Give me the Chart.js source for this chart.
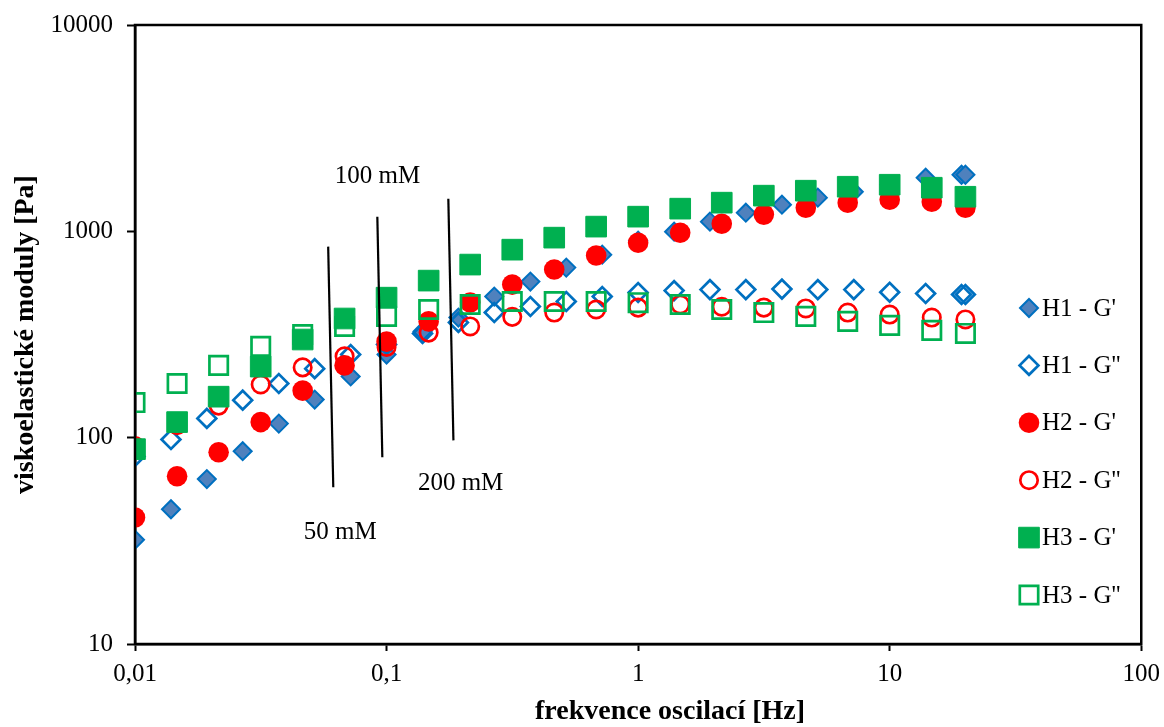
<!DOCTYPE html>
<html>
<head>
<meta charset="utf-8">
<script src="https://cdn.jsdelivr.net/npm/chart.js@4/dist/chart.umd.min.js"></script>
<style>
  html, body { margin: 0; padding: 0; background: #fff; }
</style>
</head>
<body>
<canvas id="chart" width="1164" height="727"></canvas>
<script>
// frequencies [Hz]
const freqH1 = [0.01, 0.0139, 0.0193, 0.0268, 0.0373, 0.0518, 0.072, 0.1, 0.139, 0.193, 0.268, 0.373, 0.518, 0.72,
  1, 1.39, 1.93, 2.68, 3.73, 5.18, 7.2, 10, 13.9, 19.3, 20];
const freqH23 = [0.01, 0.0147, 0.0215, 0.0316, 0.0464, 0.0681, 0.1, 0.147, 0.215, 0.316, 0.464, 0.681,
  1, 1.47, 2.15, 3.16, 4.64, 6.81, 10, 14.7, 20];

// moduli [Pa]
const h1G1 = [32, 45, 63, 86, 117, 153, 198, 253, 327, 382, 483, 571, 667, 771, 900, 996, 1114, 1231, 1346, 1456, 1556, 1680, 1820, 1880, 1880];
const h1G2 = [81, 98, 124, 152, 183, 216, 253, 283, 320, 362, 404, 432, 457, 483, 505, 516, 522, 522, 525, 522, 522, 507, 500, 494, 494];
const h2G1 = [41, 65, 85, 119, 169, 224, 292, 366, 452, 552, 653, 763, 881, 985, 1089, 1205, 1301, 1377, 1423, 1390, 1300];
const h2G2 = [91, 115, 143, 181, 219, 248, 275, 323, 346, 385, 404, 418, 427, 442, 431, 427, 423, 404, 395, 382, 374];
const h3G1 = [88, 119, 158, 221, 299, 378, 477, 577, 690, 815, 932, 1054, 1178, 1288, 1377, 1489, 1574, 1645, 1682, 1627, 1471];
const h3G2 = [148, 183, 224, 277, 316, 346, 387, 418, 442, 457, 457, 457, 451, 442, 418, 404, 387, 366, 350, 331, 320];

// concentration marker lines
const line50x = [0.0586, 0.0614], line50y = [843, 57.5];
const line100x = [0.0919, 0.0962], line100y = [1178, 80.4];
const line200x = [0.176, 0.1844], line200y = [1439, 97];
const notes = [
  { text: '100 mM', x: 0.092, y: 1837 },
  { text: '50 mM', x: 0.0655, y: 34.8 },
  { text: '200 mM', x: 0.197, y: 60 }
];

const xTicks = [0.01, 0.1, 1, 10, 100];
const yTicks = [10, 100, 1000, 10000];

const FONT = "'Liberation Serif', 'Times New Roman', serif";
Chart.defaults.font.family = FONT;
Chart.defaults.color = '#000';

function pts(xs, ys) {
  return xs.map((x, i) => ({ x: x, y: ys[i] }));
}

const BLUE = '#0070c0', BLUE_FILL = '#4f81bd', RED = '#ff0000', GREEN = '#00b050';

const series = [
  { label: "H1 - G'", data: pts(freqH1, h1G1), pointStyle: 'rectRot', pointRadius: 9,
    backgroundColor: BLUE_FILL, borderColor: BLUE, borderWidth: 2, order: 6 },
  { label: "H1 - G''", data: pts(freqH1, h1G2), pointStyle: 'rectRot', pointRadius: 9.4,
    backgroundColor: 'rgba(0,0,0,0)', borderColor: BLUE, borderWidth: 2.7, order: 5 },
  { label: "H2 - G'", data: pts(freqH23, h2G1), pointStyle: 'circle', pointRadius: 10.3,
    backgroundColor: RED, borderColor: RED, borderWidth: 0, order: 4 },
  { label: "H2 - G''", data: pts(freqH23, h2G2), pointStyle: 'circle', pointRadius: 8.7,
    backgroundColor: 'rgba(0,0,0,0)', borderColor: RED, borderWidth: 2.7, order: 3 },
  { label: "H3 - G'", data: pts(freqH23, h3G1), pointStyle: 'rect', pointRadius: 14.6,
    backgroundColor: GREEN, borderColor: GREEN, borderWidth: 1, order: 2 },
  { label: "H3 - G''", data: pts(freqH23, h3G2), pointStyle: 'rect', pointRadius: 13,
    backgroundColor: 'rgba(0,0,0,0)', borderColor: GREEN, borderWidth: 2.7, order: 1 }
];

const lineSets = [pts(line50x, line50y), pts(line100x, line100y), pts(line200x, line200y)].map(d => ({
  type: 'line', data: d, showLine: true, borderColor: '#000', borderWidth: 2.2,
  pointRadius: 0, fill: false, order: 0
}));

// box round the plot area
const frame = {
  id: 'frame',
  afterDraw(chart) {
    const { ctx, chartArea: a } = chart;
    ctx.save();
    ctx.strokeStyle = '#000';
    ctx.lineWidth = 2.5;
    ctx.strokeRect(a.left, a.top, a.right - a.left, a.bottom - a.top);
    ctx.restore();
  }
};

// "50 mM" etc. placed in data coordinates, plus the x axis title
const noteText = {
  id: 'noteText',
  afterDatasetsDraw(chart) {
    const { ctx, scales } = chart;
    ctx.save();
    ctx.font = '25px ' + FONT;
    ctx.fillStyle = '#000';
    ctx.textAlign = 'center';
    ctx.textBaseline = 'middle';
    notes.forEach(n => {
      ctx.fillText(n.text, scales.x.getPixelForValue(n.x), scales.y.getPixelForValue(n.y));
    });
    ctx.font = 'bold 28px ' + FONT;
    ctx.fillText('frekvence oscilací [Hz]', 670, 712);
    ctx.restore();
  }
};

// legend inside the plot, right side
const sideLegend = {
  id: 'sideLegend',
  afterDraw(chart) {
    const { ctx } = chart;
    const mx = 1029, tx = 1042, y0 = 308, step = 57.4;
    ctx.save();
    ctx.font = '25px ' + FONT;
    ctx.textAlign = 'left';
    ctx.textBaseline = 'middle';
    series.forEach((s, i) => {
      const y = y0 + i * step;
      ctx.fillStyle = s.backgroundColor;
      ctx.strokeStyle = s.borderColor;
      ctx.lineWidth = s.borderWidth;
      Chart.helpers.drawPoint(ctx, {
        pointStyle: s.pointStyle, radius: s.pointRadius, rotation: 0, borderWidth: s.borderWidth
      }, mx, y);
      ctx.fillStyle = '#000';
      ctx.fillText(s.label, tx, y + 1);
    });
    ctx.restore();
  }
};

new Chart(document.getElementById('chart'), {
  type: 'scatter',
  data: { datasets: series.concat(lineSets) },
  options: {
    responsive: false,
    animation: false,
    events: [],
    layout: { padding: { top: 25, right: 0, left: 0, bottom: 0 } },
    plugins: { legend: { display: false }, tooltip: { enabled: false } },
    scales: {
      x: {
        type: 'logarithmic', min: 0.01, max: 100,
        afterBuildTicks: s => { s.ticks = xTicks.map(v => ({ value: v })); },
        afterFit: s => { s.height = 83; },
        ticks: { font: { size: 25, lineHeight: 1.55 }, padding: 4, maxRotation: 0,
          callback: v => String(v).replace('.', ',') },
        grid: { drawOnChartArea: false, drawTicks: true, tickLength: 7, tickColor: '#000', tickWidth: 2 },
        border: { display: true, color: '#000', width: 2.5 },
        title: { display: false }
      },
      y: {
        type: 'logarithmic', min: 10, max: 10000,
        afterBuildTicks: s => { s.ticks = yTicks.map(v => ({ value: v })); },
        afterFit: s => { s.width = 135; },
        ticks: { font: { size: 25, lineHeight: 0.8 }, padding: 14, callback: v => String(v) },
        grid: { drawOnChartArea: false, drawTicks: true, tickLength: 8, tickColor: '#000', tickWidth: 2 },
        border: { display: true, color: '#000', width: 2.5 },
        title: { display: true, text: 'viskoelastické moduly [Pa]', font: { size: 28, weight: 'bold' },
          padding: { top: 9, bottom: 0 } }
      }
    }
  },
  plugins: [frame, noteText, sideLegend]
});
</script>
</body>
</html>
